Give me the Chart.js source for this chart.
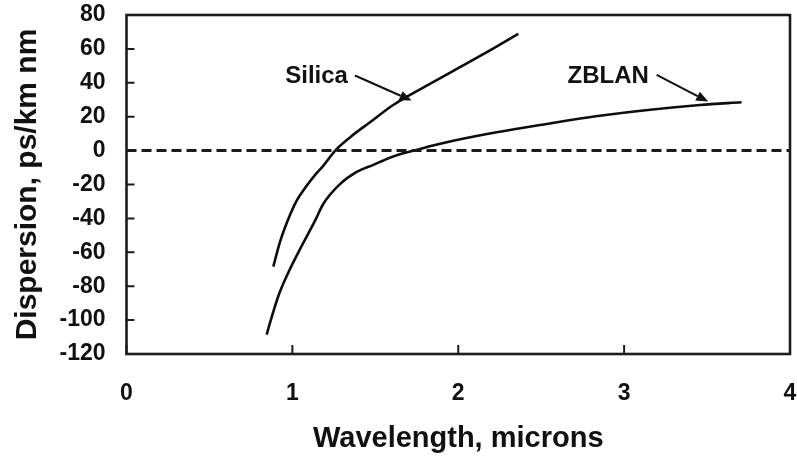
<!DOCTYPE html>
<html>
<head>
<meta charset="utf-8">
<title>Dispersion of silica and ZBLAN fibres</title>
<script src="https://cdn.jsdelivr.net/npm/chart.js@4.4.1/dist/chart.umd.min.js"></script>
<style>
  html, body { margin: 0; padding: 0; background: #ffffff; }
  canvas { display: block; }
</style>
</head>
<body>
<canvas id="chart" width="797" height="457"></canvas>
<script>
// Material dispersion curves (wavelength in microns, dispersion in ps/km nm)
const silicaWavelength = [0.885, 0.925, 0.975, 1.026, 1.086, 1.136, 1.186, 1.257, 1.347, 1.468, 1.588, 1.668, 1.829, 2.010, 2.191, 2.362];
const silicaDispersion = [-68.5, -54.0, -40.5, -29.5, -20.8, -14.5, -9.0, -0.1, 7.8, 16.7, 25.6, 30.5, 39.3, 49.2, 59.1, 68.9];

const zblanWavelength = [0.845, 0.865, 0.915, 0.975, 1.056, 1.136, 1.186, 1.287, 1.388, 1.488, 1.588, 1.668, 1.759, 1.860, 1.970, 2.231, 2.492, 2.854, 3.457, 3.708];
const zblanDispersion = [-108.6, -101.7, -85.9, -72.1, -56.3, -41.5, -31.5, -19.8, -12.6, -8.4, -4.2, -1.6, 0.7, 3.3, 5.8, 10.8, 15.1, 20.6, 26.9, 28.5];

// Zero-dispersion reference line
const zeroWavelength = [0, 4];
const zeroDispersion = [0, 0];

// Axis ticks
const xTickValues = [0, 1, 2, 3, 4];
const yTickValues = [-120, -100, -80, -60, -40, -20, 0, 20, 40, 60, 80];

// Curve names
const curveNames = ['Silica', 'ZBLAN'];

// Where each curve name sits and where its arrow points, in axis units
const namePlacement = [
  { label: [1.146, 43.6], tail: [1.377, 44.3], head: [1.719, 29.5] },
  { label: [2.904, 43.6], tail: [3.196, 44.7], head: [3.507, 28.9] }
];

const FONT = "'Liberation Sans', Arial, Helvetica, sans-serif";
const INK = '#111111';

function toPoints(xs, ys) {
  return xs.map((v, i) => ({ x: v, y: ys[i] }));
}

// Frame, inward tick marks, curve names and arrows
const decorations = {
  id: 'decorations',
  afterDatasetsDraw(chart) {
    const { ctx, chartArea: a, scales: { x, y } } = chart;
    ctx.save();
    ctx.strokeStyle = '#1c1c1c';
    ctx.lineWidth = 2.6;
    ctx.strokeRect(a.left, a.top, a.right - a.left, a.bottom - a.top);

    ctx.lineWidth = 2;
    ctx.beginPath();
    y.ticks.forEach(t => {
      const py = y.getPixelForValue(t.value);
      ctx.moveTo(a.left, py);
      ctx.lineTo(a.left + 8, py);
    });
    x.ticks.forEach(t => {
      const px = x.getPixelForValue(t.value);
      ctx.moveTo(px, a.bottom);
      ctx.lineTo(px, a.bottom - 9);
    });
    ctx.stroke();

    ctx.fillStyle = INK;
    ctx.font = 'bold 24px ' + FONT;
    ctx.textAlign = 'center';
    ctx.textBaseline = 'middle';
    namePlacement.forEach((p, i) => {
      ctx.fillText(curveNames[i], x.getPixelForValue(p.label[0]), y.getPixelForValue(p.label[1]));

      const x0 = x.getPixelForValue(p.tail[0]), y0 = y.getPixelForValue(p.tail[1]);
      const x1 = x.getPixelForValue(p.head[0]), y1 = y.getPixelForValue(p.head[1]);
      const ang = Math.atan2(y1 - y0, x1 - x0);
      const len = 12, half = 5;
      const bx = x1 - len * Math.cos(ang), by = y1 - len * Math.sin(ang);
      ctx.strokeStyle = INK;
      ctx.lineWidth = 2;
      ctx.beginPath();
      ctx.moveTo(x0, y0);
      ctx.lineTo(bx, by);
      ctx.stroke();
      ctx.beginPath();
      ctx.moveTo(x1, y1);
      ctx.lineTo(bx + half * Math.sin(ang), by - half * Math.cos(ang));
      ctx.lineTo(bx - half * Math.sin(ang), by + half * Math.cos(ang));
      ctx.closePath();
      ctx.fill();
    });
    ctx.restore();
  }
};

new Chart(document.getElementById('chart'), {
  type: 'scatter',
  data: {
    datasets: [
      {
        label: 'zero',
        data: toPoints(zeroWavelength, zeroDispersion),
        showLine: true,
        borderColor: '#1a1a1a',
        borderWidth: 3,
        borderDash: [10, 5],
        pointRadius: 0
      },
      {
        label: curveNames[0],
        data: toPoints(silicaWavelength, silicaDispersion),
        showLine: true,
        borderColor: '#0d0d0d',
        borderWidth: 2.6,
        cubicInterpolationMode: 'monotone',
        pointRadius: 0
      },
      {
        label: curveNames[1],
        data: toPoints(zblanWavelength, zblanDispersion),
        showLine: true,
        borderColor: '#0d0d0d',
        borderWidth: 2.6,
        cubicInterpolationMode: 'monotone',
        pointRadius: 0
      }
    ]
  },
  options: {
    responsive: false,
    animation: false,
    devicePixelRatio: 1,
    layout: { padding: { top: 15, right: 7, left: 0, bottom: 0 } },
    plugins: { legend: { display: false }, tooltip: { enabled: false } },
    scales: {
      x: {
        type: 'linear',
        min: 0,
        max: 4,
        afterBuildTicks: s => { s.ticks = xTickValues.map(v => ({ value: v })); },
        afterFit: s => { s.height = 103; s.paddingLeft = 0; s.paddingRight = 0; },
        grid: { display: false, drawTicks: false },
        border: { display: false },
        ticks: {
          padding: 26,
          color: INK,
          font: { family: FONT, size: 23, weight: 'bold' }
        },
        title: {
          display: true,
          text: 'Wavelength, microns',
          color: INK,
          padding: { top: 0, bottom: 1 },
          font: { family: FONT, size: 29, weight: 'bold' }
        }
      },
      y: {
        type: 'linear',
        min: -120,
        max: 80,
        afterBuildTicks: s => { s.ticks = yTickValues.map(v => ({ value: v })); },
        afterFit: s => { s.width = 126.5; s.paddingTop = 0; s.paddingBottom = 0; },
        grid: { display: false, drawTicks: false },
        border: { display: false },
        ticks: {
          padding: 21,
          color: INK,
          font: { family: FONT, size: 23, weight: 'bold' }
        },
        title: {
          display: true,
          text: 'Dispersion, ps/km nm',
          color: INK,
          padding: { top: 10, bottom: 0 },
          font: { family: FONT, size: 30, weight: 'bold' }
        }
      }
    }
  },
  plugins: [decorations]
});
</script>
</body>
</html>
